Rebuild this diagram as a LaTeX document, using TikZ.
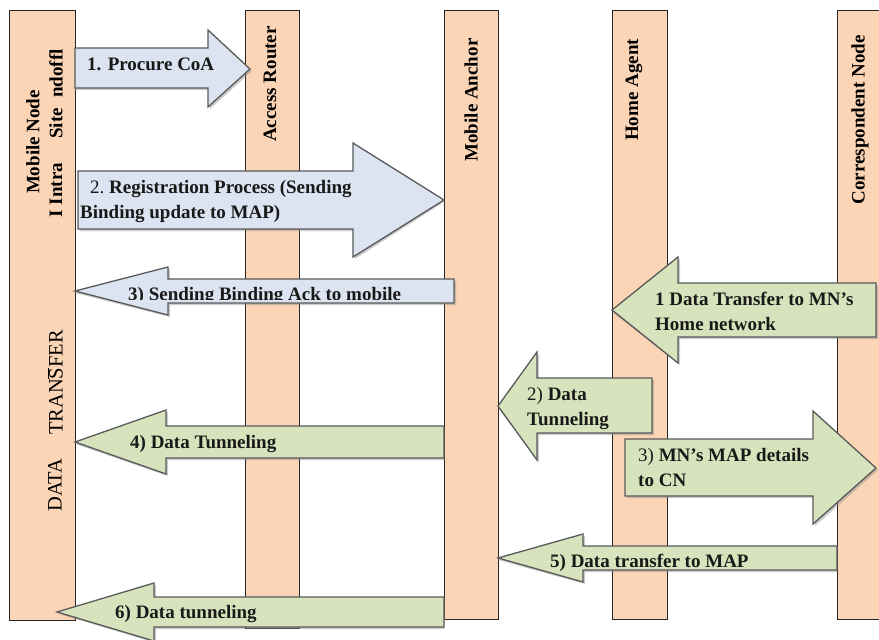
\documentclass[tikz,border=0pt]{standalone}
\usepackage{fontspec}
\setmainfont{Liberation Serif}
\definecolor{pillarfill}{HTML}{FBD5B5}
\definecolor{bluefill}{HTML}{DBE4F0}
\definecolor{greenfill}{HTML}{D7E3BC}
\definecolor{arrowline}{HTML}{595959}
\begin{document}
\begin{tikzpicture}[x=1pt,y=-1pt,
  pillar/.style={draw=black!85,line width=1pt,fill=pillarfill},
  shadowed/.style={fill=black!45,opacity=0.45,draw=none},
  bluearrow/.style={draw=arrowline,line width=1.3pt,fill=bluefill,line join=miter},
  greenarrow/.style={draw=arrowline,line width=1.3pt,fill=greenfill,line join=miter},
  lbl/.style={font=\bfseries\fontsize{19}{25}\selectfont,anchor=base west,inner sep=0pt,text=black!90},
  plbl/.style={font=\bfseries\fontsize{19}{25}\selectfont,rotate=90,inner sep=0pt,anchor=center},
  dlbl/.style={font=\fontsize{20.5}{24}\selectfont,rotate=90,inner sep=0pt,anchor=center}]
\useasboundingbox (0,0) rectangle (879,640);
\clip (0,0) rectangle (879,640);

% lifelines of the five entities
\path[pillar] (9,10) rectangle (75,620);
\path[pillar] (245,10) rectangle (299,628);
\path[pillar] (444,10) rectangle (498,619);
\path[pillar] (612,10) rectangle (667,619);
\path[pillar] (837,10) rectangle (900,619);
\coordinate (mnE) at (75,0);
\coordinate (arW) at (245,0);
\coordinate (maW) at (444,0);
\coordinate (maE) at (498,0);
\coordinate (haW) at (612,0);
\coordinate (cnW) at (837,0);

% entity names
\node[plbl] (mnname) at (33,142) {Mobile Node};
\node[plbl] (intra) at (56,190) {I Intra};
\node[plbl] (site) at (56,123.5) {Site};
\node[plbl] (ndoff) at (56,73.5) {ndoffl};
\node[plbl] (arname) at (270,84) {Access Router};
\node[plbl] (maname) at (471,100) {Mobile Anchor};
\node[plbl] (haname) at (634,90) {Home Agent};
\node[plbl] (cnname) at (860,120) {Correspondent Node};
\node[dlbl] (data) at (55,485) {DATA};
\node[dlbl] (transfer) at (55,382.5) {TRAN$\overline{\mbox{S}}$FER};

% 1. Procure CoA
\fill[shadowed,shift={(2,2)}] (mnE |- 0,48) -- (208,48) -- (208,30) -- (250,69) -- (208,107) -- (208,88) -- (mnE |- 0,88) -- cycle;
\path[bluearrow] (mnE |- 0,48) -- (208,48) -- (208,30) -- (250,69) -- (208,107) -- (208,88) -- (mnE |- 0,88) -- cycle;
\node[lbl] (t1) at (87,70) {1. Procure CoA};

% 2. Registration
\fill[shadowed,shift={(2,2)}] (78,171) -- (353,171) -- (353,143) -- (maW |- 0,200) -- (353,257) -- (353,229) -- (78,229) -- cycle;
\path[bluearrow] (78,171) -- (353,171) -- (353,143) -- (maW |- 0,200) -- (353,257) -- (353,229) -- (78,229) -- cycle;
\node[lbl] (t2a) at (90,193) {\mdseries 2.\ \bfseries Registration Process (Sending};
\node[lbl] (t2b) at (80,218) {Binding update to MAP)};

% 3) Binding Ack
\fill[shadowed,shift={(2,2)}] (mnE |- 0,291) -- (168,267) -- (168,279) -- (454,279) -- (454,303) -- (168,303) -- (168,315) -- cycle;
\path[bluearrow] (mnE |- 0,291) -- (168,267) -- (168,279) -- (454,279) -- (454,303) -- (168,303) -- (168,315) -- cycle;
\begin{scope}
  \clip (100,280) rectangle (452,299.5);
  \node[lbl] (t3) at (128,300) {3) Sending Binding Ack to mobile};
\end{scope}

% 1 Data Transfer to MN's Home network
\fill[shadowed,shift={(2,2)}] (haW |- 0,310) -- (678,257) -- (678,283) -- (876,283) -- (876,337) -- (678,337) -- (678,363) -- cycle;
\path[greenarrow] (haW |- 0,310) -- (678,257) -- (678,283) -- (876,283) -- (876,337) -- (678,337) -- (678,363) -- cycle;
\node[lbl] (h1a) at (655,305) {1 Data Transfer to MN's};
\node[lbl] (h1b) at (655,330) {Home network};

% 2) Data Tunneling (HA -> MAP)
\fill[shadowed,shift={(2,2)}] (maE |- 0,406) -- (537,352) -- (537,378) -- (652,378) -- (652,433) -- (537,433) -- (537,460) -- cycle;
\path[greenarrow] (maE |- 0,406) -- (537,352) -- (537,378) -- (652,378) -- (652,433) -- (537,433) -- (537,460) -- cycle;
\node[lbl] (h2a) at (527,400) {\mdseries 2)\ \bfseries Data};
\node[lbl] (h2b) at (527,425) {Tunneling};

% 3) MN's MAP details to CN
\fill[shadowed,shift={(2,2)}] (625,439) -- (813,439) -- (813,411) -- (876,468) -- (813,524) -- (813,496) -- (625,496) -- cycle;
\path[greenarrow] (625,439) -- (813,439) -- (813,411) -- (876,468) -- (813,524) -- (813,496) -- (625,496) -- cycle;
\node[lbl] (h3a) at (638,461) {\mdseries 3)\ \bfseries MN's MAP details};
\node[lbl] (h3b) at (638,486) {to CN};

% 4) Data Tunneling (MAP -> MN)
\fill[shadowed,shift={(2,2)}] (mnE |- 0,442) -- (166,410) -- (166,426) -- (maW |- 0,426) -- (maW |- 0,458) -- (166,458) -- (166,474) -- cycle;
\path[greenarrow] (mnE |- 0,442) -- (166,410) -- (166,426) -- (maW |- 0,426) -- (maW |- 0,458) -- (166,458) -- (166,474) -- cycle;
\node[lbl] (h4) at (130,448) {4) Data Tunneling};

% 5) Data transfer to MAP
\fill[shadowed,shift={(2,2)}] (maE |- 0,558) -- (583,534) -- (583,546) -- (cnW |- 0,546) -- (cnW |- 0,570) -- (583,570) -- (583,582) -- cycle;
\path[greenarrow] (maE |- 0,558) -- (583,534) -- (583,546) -- (cnW |- 0,546) -- (cnW |- 0,570) -- (583,570) -- (583,582) -- cycle;
\node[lbl] (h5) at (550,567) {5) Data transfer to MAP};

% 6) Data tunneling
\fill[shadowed,shift={(2,2)}] (57,612) -- (154,583) -- (154,597) -- (maW |- 0,597) -- (maW |- 0,627) -- (154,627) -- (154,641) -- cycle;
\path[greenarrow] (57,612) -- (154,583) -- (154,597) -- (maW |- 0,597) -- (maW |- 0,627) -- (154,627) -- (154,641) -- cycle;
\node[lbl] (h6) at (115,618) {6) Data tunneling};
\end{tikzpicture}
\end{document}
